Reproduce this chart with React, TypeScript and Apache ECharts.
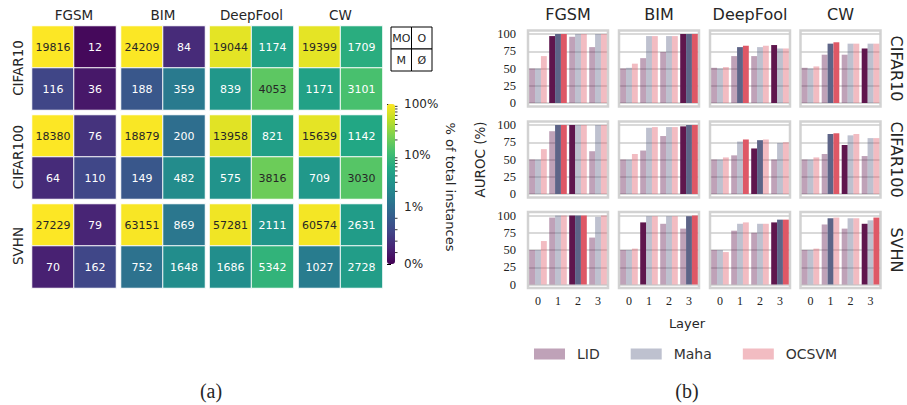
import React, { useEffect, useRef } from "react";
import * as echarts from "echarts";

const attacks = ["FGSM", "BIM", "DeepFool", "CW"];
const datasets = ["CIFAR10", "CIFAR100", "SVHN"];
const layers = ["0", "1", "2", "3"];
const methods = ["LID", "Maha", "OCSVM"];

// (a) counts per attack: [MO, O, M, Ø]
const countsCIFAR10 = [[19816, 12, 116, 36], [24209, 84, 188, 359], [19044, 1174, 839, 4053], [19399, 1709, 1171, 3101]];
const countsCIFAR100 = [[18380, 76, 64, 110], [18879, 200, 149, 482], [13958, 821, 575, 3816], [15639, 1142, 709, 3030]];
const countsSVHN = [[27229, 79, 70, 162], [63151, 869, 752, 1648], [57281, 2111, 1686, 5342], [60574, 2631, 1027, 2728]];

const colorbarTicks = [0, 1, 10, 100];
const colorbarMinor = [0.2, 0.4, 0.6, 0.8, 2, 3, 4, 5, 6, 7, 8, 9, 20, 30, 40, 50, 60, 70, 80, 90];
const legendCells = ["MO", "O", "M", "Ø"];

// (b) AUROC per attack (FGSM, BIM, DeepFool, CW), per layer 0..3
const lidCIFAR10 = [[50, 97, 96, 81], [50, 65, 74, 100], [51, 68, 68, 84], [51, 70, 70, 79]];
const mahaCIFAR10 = [[50, 100, 100, 100], [51, 97, 97, 100], [50, 81, 81, 79], [50, 86, 86, 86]];
const ocsvmCIFAR10 = [[68, 100, 100, 100], [57, 97, 97, 100], [52, 83, 83, 79], [53, 88, 86, 86]];
const lidCIFAR100 = [[50, 91, 100, 62], [50, 63, 84, 98], [50, 56, 66, 50], [50, 58, 71, 55]];
const mahaCIFAR100 = [[50, 100, 100, 100], [50, 96, 97, 100], [50, 76, 78, 74], [50, 87, 85, 81]];
const ocsvmCIFAR100 = [[65, 100, 100, 100], [58, 97, 97, 100], [53, 79, 79, 75], [53, 88, 87, 81]];
const lidSVHN = [[50, 97, 100, 68], [50, 90, 88, 81], [50, 78, 75, 90], [50, 87, 81, 88]];
const mahaSVHN = [[50, 100, 100, 98], [50, 99, 99, 99], [50, 88, 88, 94], [50, 96, 96, 93]];
const ocsvmSVHN = [[63, 100, 100, 100], [52, 99, 99, 100], [47, 90, 88, 94], [52, 97, 96, 97]];
// best layer per attack for [LID, Maha, OCSVM]
const bestCIFAR10 = [[1, 1, 1], [3, 3, 3], [3, 1, 1], [3, 1, 1]];
const bestCIFAR100 = [[2, 1, 1], [3, 3, 3], [2, 2, 1], [2, 1, 1]];
const bestSVHN = [[2, 2, 2], [1, 3, 3], [3, 3, 3], [3, 1, 3]];
const yTicks = [0, 25, 50, 75, 100];

const viridis = ["#440154", "#482475", "#414487", "#355f8d", "#2a788e", "#21918c", "#22a884", "#44bf70", "#7ad151", "#bddf26", "#fde725"];
const darkColors = ["#5f164d", "#5d6487", "#de5866"];
const lightColors = ["rgba(95,22,77,0.4)", "rgba(93,100,135,0.4)", "rgba(222,88,102,0.4)"];

const SANS = "DejaVu Sans";
const SERIF = "Liberation Serif";
const LINSCALE = 1 / (1 - 1 / 10);
const CB_MAX = LINSCALE + 2;

// symmetric-log colour scale (linthresh 1%)
function symlogUnits(p: number) {
  return p <= 1 ? p * LINSCALE : LINSCALE + Math.log10(p);
}

function txt(text: string, x: number, y: number, size: number, opts: any = {}) {
  return {
    type: "text",
    x,
    y,
    rotation: opts.rotation || 0,
    silent: true,
    style: {
      text,
      font: `${size}px "${opts.family || SANS}"`,
      fill: opts.fill || "#262626",
      align: opts.align || "center",
      verticalAlign: "middle",
      textAlign: opts.align || "center",
      textVerticalAlign: "middle",
    },
  };
}

export default function App() {
  const ref = useRef<HTMLDivElement>(null);
  useEffect(() => {
    if (!ref.current) return;
    const chart = echarts.init(ref.current, null, { renderer: "svg" });
    const grids: any[] = [];
    const xAxis: any[] = [];
    const yAxis: any[] = [];
    const series: any[] = [];
    const graphic: any[] = [];

    // ---------- (a) heatmaps ----------
    const hmLefts = [32, 121, 209.5, 298.5];
    const hmTops = [26, 115, 204];
    const hmSize = 84;
    const countsAll = [countsCIFAR10, countsCIFAR100, countsSVHN];
    const heatmapIdx: number[] = [];
    countsAll.forEach((rows, r) => {
      rows.forEach((cells, c) => {
        const total = cells.reduce((a, b) => a + b, 0);
        const gi = grids.length;
        grids.push({ left: hmLefts[c], top: hmTops[r], width: hmSize, height: hmSize, show: false });
        xAxis.push({ type: "category", gridIndex: gi, data: ["0", "1"], show: false });
        yAxis.push({ type: "category", gridIndex: gi, data: ["0", "1"], inverse: true, show: false });
        heatmapIdx.push(series.length);
        series.push({
          type: "heatmap",
          xAxisIndex: gi,
          yAxisIndex: gi,
          data: cells.map((n, k) => {
            const u = symlogUnits((100 * n) / total);
            return {
              value: [k % 2, Math.floor(k / 2), u, n],
              label: { color: u / CB_MAX > 0.72 ? "#262626" : "#ffffff" },
            };
          }),
          label: {
            show: true,
            formatter: (p: any) => String(p.value[3]),
            fontSize: 11,
            fontFamily: SANS,
          },
          itemStyle: { borderColor: "#ffffff", borderWidth: 1 },
          emphasis: { disabled: true },
        });
      });
    });
    attacks.forEach((a, c) => graphic.push(txt(a, hmLefts[c] + hmSize / 2, 15, 13.5)));
    datasets.forEach((d, r) =>
      graphic.push(txt(d, 18, hmTops[r] + hmSize / 2, 13.5, { rotation: Math.PI / 2 }))
    );

    // legend box MO / O / M / Ø
    const bx = 391, by = 27, bw = 20.5, bh = 22;
    legendCells.forEach((t, k) => {
      const cx = bx + (k % 2) * bw;
      const cy = by + Math.floor(k / 2) * bh;
      graphic.push({
        type: "rect",
        shape: { x: cx, y: cy, width: bw, height: bh },
        style: { fill: "#fff", stroke: "#000", lineWidth: 1 },
        silent: true,
      });
      graphic.push(txt(t, cx + bw / 2, cy + bh / 2, 11));
    });

    // colorbar
    const cbLeft = 387, cbTop = 104, cbW = 8, cbH = 160;
    const cbi = grids.length;
    const majorVals = colorbarTicks.map(symlogUnits);
    grids.push({ left: cbLeft, top: cbTop, width: cbW, height: cbH, show: false });
    xAxis.push({ type: "value", gridIndex: cbi, min: 0, max: 1, show: false });
    yAxis.push({
      type: "value",
      gridIndex: cbi,
      min: 0,
      max: CB_MAX,
      position: "right",
      axisLine: { show: false },
      axisTick: { show: true, length: 4, customValues: majorVals, lineStyle: { color: "#000", width: 1 } },
      splitLine: { show: false },
      axisLabel: {
        margin: 9,
        fontSize: 12,
        fontFamily: SANS,
        color: "#262626",
        customValues: majorVals,
        formatter: (v: number) => {
          const i = majorVals.findIndex((t) => Math.abs(t - v) < 1e-6);
          return i >= 0 ? `${colorbarTicks[i]}%` : "";
        },
      },
    });
    series.push({
      type: "custom",
      xAxisIndex: cbi,
      yAxisIndex: cbi,
      silent: true,
      clip: false,
      data: colorbarMinor.map((p) => [1, symlogUnits(p)]),
      renderItem: (params: any, api: any) => {
        const pt = api.coord([api.value(0), api.value(1)]);
        return {
          type: "line",
          shape: { x1: pt[0], y1: pt[1], x2: pt[0] + 2.5, y2: pt[1] },
          style: { stroke: "#000", lineWidth: 0.8 },
        };
      },
      z: 10,
    });
    graphic.push(txt("% of total instances", 450, 187, 13, { rotation: -Math.PI / 2 }));

    // ---------- (b) bar facets ----------
    const bLefts = [528, 619, 710, 800.5];
    const bTops = [34, 125, 215.5];
    const bW = 80, bH = 69;
    const lidAll = [lidCIFAR10, lidCIFAR100, lidSVHN];
    const mahaAll = [mahaCIFAR10, mahaCIFAR100, mahaSVHN];
    const ocsvmAll = [ocsvmCIFAR10, ocsvmCIFAR100, ocsvmSVHN];
    const bestAll = [bestCIFAR10, bestCIFAR100, bestSVHN];
    datasets.forEach((d, r) => {
      attacks.forEach((a, c) => {
        // border box
        const bgi = grids.length;
        grids.push({
          left: bLefts[c],
          top: bTops[r] - 3.5,
          width: bW,
          height: bH + 7,
          show: true,
          borderColor: "#d2d2d2",
          borderWidth: 2.5,
          backgroundColor: "transparent",
        });
        xAxis.push({ type: "value", gridIndex: bgi, show: false });
        yAxis.push({ type: "value", gridIndex: bgi, show: false });
        // data grid
        const gi = grids.length;
        grids.push({ left: bLefts[c], top: bTops[r], width: bW, height: bH, show: false });
        xAxis.push({
          type: "category",
          gridIndex: gi,
          data: layers,
          axisLine: { show: false },
          axisTick: { show: false },
          axisLabel: {
            show: r === datasets.length - 1,
            margin: 10,
            fontSize: 12,
            fontFamily: SERIF,
            color: "#222222",
          },
        });
        yAxis.push({
          type: "value",
          gridIndex: gi,
          min: yTicks[0],
          max: yTicks[yTicks.length - 1],
          interval: yTicks[1] - yTicks[0],
          axisLine: { show: false },
          axisTick: { show: false },
          axisLabel: {
            show: c === 0,
            margin: 12,
            fontSize: 12.5,
            fontFamily: SERIF,
            color: "#222222",
          },
          splitLine: { show: true, lineStyle: { color: "#cccccc", width: 1.5 } },
        });
        const vals = [lidAll[r][c], mahaAll[r][c], ocsvmAll[r][c]];
        methods.forEach((m, mi) => {
          const best = bestAll[r][c][mi];
          series.push({
            type: "bar",
            name: m,
            xAxisIndex: gi,
            yAxisIndex: gi,
            barGap: "0%",
            barCategoryGap: "12%",
            itemStyle: { color: lightColors[mi] },
            emphasis: { disabled: true },
            data: vals[mi].map((v, li) => ({
              value: v,
              itemStyle: { color: li === best ? darkColors[mi] : lightColors[mi] },
            })),
          });
        });
      });
    });
    attacks.forEach((a, c) => graphic.push(txt(a, bLefts[c] + bW / 2, 14, 16)));
    datasets.forEach((d, r) =>
      graphic.push(txt(d, 896, bTops[r] + bH / 2, 16, { rotation: -Math.PI / 2 }))
    );
    graphic.push(txt("AUROC (%)", 480, bTops[1] + bH / 2, 13.5, { rotation: Math.PI / 2 }));
    graphic.push(txt("Layer", 687, 323, 13));
    graphic.push(txt("(a)", 211, 391, 20, { family: SERIF }));
    graphic.push(txt("(b)", 687, 391, 20, { family: SERIF }));

    chart.setOption({
      animation: false,
      textStyle: { fontFamily: SANS },
      grid: grids,
      xAxis,
      yAxis,
      series,
      graphic,
      visualMap: {
        type: "continuous",
        seriesIndex: heatmapIdx,
        dimension: 2,
        min: 0,
        max: CB_MAX,
        inRange: { color: viridis },
        calculable: false,
        hoverLink: false,
        show: true,
        left: cbLeft,
        top: cbTop,
        itemWidth: cbW,
        itemHeight: cbH,
        padding: 0,
        text: null,
        orient: "vertical",
      },
      legend: {
        data: methods,
        left: 534,
        top: 347,
        padding: 0,
        itemWidth: 31,
        itemHeight: 11,
        itemGap: 31,
        icon: "rect",
        selectedMode: false,
        textStyle: { fontSize: 14, fontFamily: SANS, color: "#333", padding: [0, 0, 0, 7] },
      },
    });
    return () => chart.dispose();
  }, []);
  return (
    <div
      ref={ref}
      style={{ position: "fixed", left: 0, top: 0, width: 907, height: 405, background: "#fff" }}
    />
  );
}
